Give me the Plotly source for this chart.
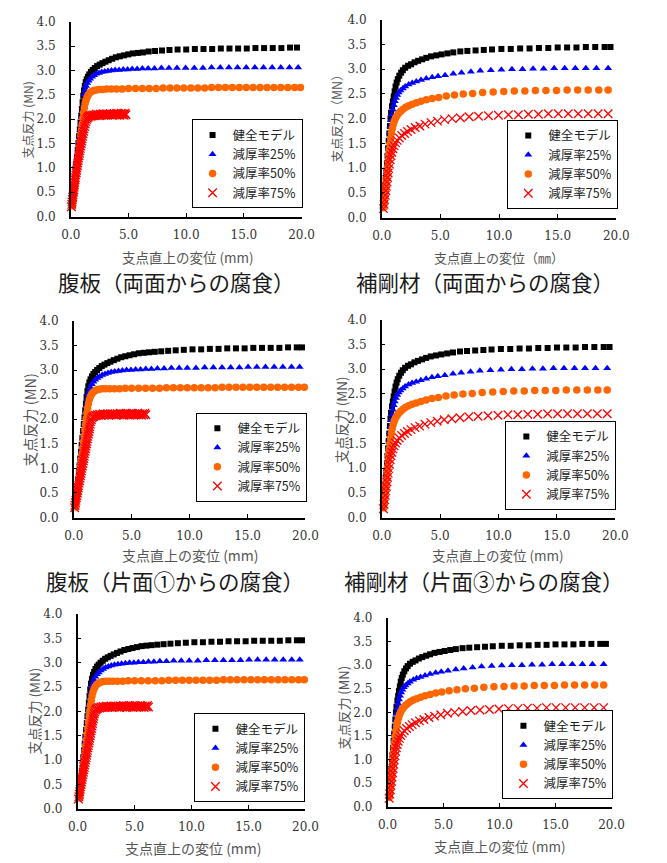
import plotly.graph_objects as go

W, H = 667, 863

series_names = ["健全モデル", "減厚率25%", "減厚率50%", "減厚率75%"]

# ---------------- data: 腹板（両面からの腐食） ----------------
web_both_healthy = [(0.12,0.25),(0.18,0.39),(0.24,0.53),(0.30,0.67),(0.36,0.81),(0.42,0.95),(0.48,1.09),(0.54,1.23),(0.60,1.37),(0.66,1.51),(0.72,1.65),(0.78,1.79),(0.84,1.93),(0.90,2.07),(0.96,2.21),(1.02,2.35),(1.08,2.48),(1.14,2.59),(1.21,2.68),(1.29,2.76),(1.38,2.82),(1.48,2.87),(1.60,2.92),(1.74,2.97),(1.90,3.01),(2.08,3.05),(2.28,3.09),(2.50,3.12),(2.74,3.15),(3.00,3.18),(3.28,3.21),(3.58,3.24),(3.90,3.27),(4.24,3.29),(4.60,3.31),(4.98,3.33),(5.38,3.35),(5.80,3.36),(6.25,3.37),(6.75,3.39),(7.30,3.40),(7.90,3.41),(8.55,3.42),(9.25,3.43),(10.00,3.43),(10.75,3.44),(11.50,3.44),(12.25,3.44),(13.00,3.45),(13.75,3.45),(14.50,3.45),(15.25,3.45),(16.00,3.46),(16.75,3.46),(17.50,3.46),(18.25,3.46),(19.00,3.47),(19.60,3.47)]
web_both_25 = [(0.12,0.22),(0.18,0.35),(0.24,0.48),(0.30,0.61),(0.36,0.74),(0.42,0.87),(0.48,1.00),(0.54,1.13),(0.60,1.26),(0.66,1.39),(0.72,1.52),(0.78,1.65),(0.84,1.78),(0.90,1.91),(0.96,2.04),(1.02,2.17),(1.08,2.30),(1.15,2.50),(1.23,2.60),(1.32,2.68),(1.42,2.74),(1.54,2.79),(1.68,2.83),(1.84,2.87),(2.02,2.90),(2.22,2.93),(2.44,2.95),(2.68,2.97),(2.94,2.98),(3.22,2.99),(3.52,3.00),(3.84,3.01),(4.18,3.01),(4.54,3.02),(4.92,3.02),(5.32,3.03),(5.75,3.03),(6.20,3.04),(6.70,3.04),(7.25,3.04),(7.85,3.05),(8.50,3.05),(9.20,3.05),(9.95,3.05),(10.70,3.05),(11.45,3.05),(12.20,3.06),(12.95,3.06),(13.70,3.06),(14.45,3.06),(15.20,3.06),(15.95,3.06),(16.70,3.06),(17.45,3.06),(18.20,3.06),(18.95,3.06),(19.70,3.06)]
web_both_50 = [(0.15,0.22),(0.21,0.34),(0.27,0.46),(0.33,0.58),(0.39,0.70),(0.45,0.82),(0.51,0.94),(0.57,1.06),(0.63,1.18),(0.69,1.30),(0.75,1.42),(0.81,1.54),(0.87,1.66),(0.93,1.78),(0.99,1.90),(1.05,2.02),(1.11,2.13),(1.17,2.23),(1.24,2.32),(1.32,2.39),(1.41,2.45),(1.52,2.50),(1.65,2.54),(1.80,2.57),(1.98,2.59),(2.20,2.60),(2.45,2.61),(2.75,2.61),(3.10,2.62),(3.50,2.62),(3.95,2.62),(4.45,2.62),(5.00,2.63),(5.60,2.63),(6.20,2.63),(6.80,2.63),(7.40,2.63),(8.00,2.64),(8.60,2.64),(9.20,2.64),(9.80,2.64),(10.40,2.64),(11.00,2.64),(11.60,2.64),(12.20,2.65),(12.80,2.65),(13.40,2.65),(14.00,2.65),(14.60,2.65),(15.20,2.65),(15.80,2.65),(16.40,2.65),(17.00,2.65),(17.60,2.65),(18.20,2.65),(18.80,2.65),(19.40,2.65),(19.90,2.65)]
web_both_75 = [(0.05,0.20),(0.08,0.25),(0.10,0.30),(0.13,0.35),(0.16,0.40),(0.19,0.45),(0.22,0.50),(0.25,0.55),(0.28,0.60),(0.31,0.65),(0.34,0.70),(0.37,0.75),(0.40,0.80),(0.43,0.85),(0.47,0.90),(0.50,0.95),(0.53,1.00),(0.57,1.05),(0.60,1.10),(0.64,1.15),(0.67,1.20),(0.71,1.25),(0.75,1.30),(0.78,1.35),(0.82,1.40),(0.86,1.45),(0.90,1.50),(0.94,1.55),(0.98,1.60),(1.02,1.65),(1.06,1.70),(1.11,1.75),(1.15,1.80),(1.20,1.85),(1.25,1.90),(1.30,1.95),(1.36,1.99),(1.42,2.02),(1.50,2.04),(1.58,2.06),(1.66,2.07),(1.74,2.06),(1.82,2.08),(1.90,2.07),(1.98,2.09),(2.06,2.07),(2.14,2.08),(2.22,2.10),(2.30,2.08),(2.38,2.09),(2.46,2.07),(2.54,2.10),(2.62,2.08),(2.70,2.09),(2.78,2.11),(2.86,2.08),(2.94,2.10),(3.02,2.09),(3.10,2.11),(3.18,2.08),(3.26,2.10),(3.34,2.09),(3.42,2.11),(3.50,2.09),(3.58,2.10),(3.66,2.08),(3.74,2.11),(3.82,2.09),(3.90,2.10),(3.98,2.12),(4.06,2.09),(4.14,2.11),(4.22,2.08),(4.30,2.10),(4.38,2.12),(4.46,2.09),(4.54,2.11),(4.62,2.08),(4.70,2.12),(4.78,2.09)]

# ---------------- data: 補剛材（両面からの腐食） ----------------
stiff_both_healthy = [(0.15,0.22),(0.20,0.35),(0.25,0.50),(0.30,0.65),(0.35,0.80),(0.40,0.95),(0.45,1.10),(0.50,1.25),(0.55,1.40),(0.60,1.55),(0.65,1.70),(0.70,1.85),(0.75,2.00),(0.80,2.12),(0.88,2.25),(0.95,2.35),(1.02,2.45),(1.10,2.55),(1.18,2.65),(1.27,2.73),(1.37,2.80),(1.50,2.87),(1.65,2.93),(1.80,2.98),(2.00,3.03),(2.25,3.07),(2.50,3.10),(2.80,3.14),(3.10,3.17),(3.45,3.20),(3.80,3.23),(4.20,3.26),(4.65,3.28),(5.10,3.30),(5.60,3.32),(6.10,3.34),(6.70,3.36),(7.30,3.37),(8.00,3.38),(8.70,3.39),(9.40,3.40),(10.20,3.41),(11.00,3.41),(11.80,3.42),(12.60,3.42),(13.40,3.43),(14.20,3.43),(15.00,3.44),(15.80,3.44),(16.60,3.44),(17.40,3.45),(18.20,3.45),(19.00,3.45),(19.50,3.45)]
stiff_both_25 = [(0.15,0.20),(0.20,0.33),(0.25,0.46),(0.30,0.60),(0.35,0.74),(0.40,0.88),(0.45,1.02),(0.50,1.16),(0.55,1.30),(0.60,1.44),(0.65,1.58),(0.70,1.72),(0.75,1.85),(0.80,1.97),(0.87,2.08),(0.95,2.18),(1.03,2.27),(1.12,2.35),(1.22,2.42),(1.33,2.48),(1.45,2.53),(1.60,2.57),(1.80,2.61),(2.00,2.65),(2.30,2.69),(2.60,2.72),(2.95,2.75),(3.35,2.78),(3.80,2.81),(4.30,2.84),(4.80,2.86),(5.40,2.88),(6.10,2.91),(6.80,2.93),(7.60,2.95),(8.40,2.97),(9.30,2.98),(10.20,2.99),(11.10,3.00),(12.00,3.00),(12.90,3.01),(13.80,3.01),(14.70,3.02),(15.60,3.02),(16.50,3.02),(17.40,3.02),(18.30,3.02),(19.30,3.02)]
stiff_both_50 = [(0.15,0.20),(0.20,0.30),(0.25,0.42),(0.30,0.54),(0.35,0.66),(0.40,0.78),(0.45,0.90),(0.50,1.02),(0.55,1.14),(0.60,1.26),(0.65,1.38),(0.70,1.50),(0.76,1.61),(0.83,1.71),(0.90,1.80),(0.98,1.88),(1.07,1.95),(1.17,2.01),(1.30,2.06),(1.45,2.11),(1.62,2.15),(1.82,2.19),(2.05,2.23),(2.30,2.26),(2.60,2.29),(2.95,2.32),(3.35,2.35),(3.80,2.38),(4.30,2.41),(4.85,2.43),(5.50,2.46),(6.20,2.48),(6.95,2.50),(7.75,2.51),(8.60,2.53),(9.50,2.54),(10.40,2.55),(11.30,2.56),(12.20,2.56),(13.10,2.57),(14.00,2.57),(14.90,2.57),(15.80,2.58),(16.70,2.58),(17.60,2.58),(18.50,2.58),(19.30,2.58)]
stiff_both_75 = [(0.15,0.18),(0.20,0.27),(0.25,0.36),(0.30,0.45),(0.35,0.54),(0.40,0.63),(0.45,0.72),(0.50,0.81),(0.55,0.90),(0.60,0.99),(0.66,1.08),(0.72,1.17),(0.79,1.25),(0.87,1.32),(0.96,1.39),(1.06,1.45),(1.18,1.51),(1.32,1.56),(1.50,1.61),(1.70,1.66),(1.95,1.70),(2.20,1.74),(2.50,1.78),(2.85,1.82),(3.25,1.85),(3.70,1.89),(4.20,1.92),(4.75,1.95),(5.35,1.98),(6.00,2.00),(6.70,2.02),(7.45,2.04),(8.25,2.05),(9.10,2.06),(9.95,2.07),(10.80,2.08),(11.65,2.08),(12.50,2.09),(13.35,2.09),(14.20,2.10),(15.05,2.10),(15.90,2.10),(16.75,2.10),(17.60,2.10),(18.45,2.10),(19.30,2.10)]

# ---------------- data: 腹板（片面からの腐食） ----------------
web_one_healthy = [(0.15,0.22),(0.21,0.36),(0.27,0.50),(0.33,0.64),(0.39,0.78),(0.45,0.92),(0.51,1.06),(0.57,1.20),(0.63,1.34),(0.69,1.48),(0.75,1.62),(0.81,1.76),(0.87,1.90),(0.93,2.04),(0.99,2.18),(1.05,2.32),(1.11,2.45),(1.18,2.57),(1.26,2.67),(1.35,2.75),(1.45,2.81),(1.57,2.87),(1.70,2.92),(1.85,2.96),(2.02,3.00),(2.21,3.04),(2.42,3.08),(2.65,3.11),(2.90,3.14),(3.17,3.17),(3.46,3.20),(3.77,3.23),(4.10,3.26),(4.45,3.28),(4.82,3.30),(5.21,3.32),(5.62,3.34),(6.05,3.35),(6.50,3.36),(7.00,3.37),(7.55,3.38),(8.15,3.39),(8.80,3.40),(9.50,3.41),(10.25,3.42),(11.00,3.42),(11.75,3.43),(12.50,3.43),(13.25,3.44),(14.00,3.44),(14.75,3.44),(15.50,3.45),(16.25,3.45),(17.00,3.45),(17.75,3.45),(18.50,3.46),(19.25,3.46),(19.70,3.46)]
web_one_25 = [(0.14,0.20),(0.20,0.33),(0.26,0.46),(0.32,0.59),(0.38,0.72),(0.44,0.85),(0.50,0.98),(0.56,1.11),(0.62,1.24),(0.68,1.37),(0.74,1.50),(0.80,1.63),(0.86,1.76),(0.92,1.89),(0.98,2.02),(1.04,2.15),(1.10,2.28),(1.17,2.40),(1.25,2.50),(1.34,2.58),(1.44,2.65),(1.56,2.71),(1.70,2.76),(1.86,2.80),(2.04,2.84),(2.24,2.87),(2.46,2.90),(2.70,2.92),(2.96,2.94),(3.24,2.96),(3.54,2.97),(3.86,2.98),(4.20,2.99),(4.56,3.00),(4.94,3.00),(5.34,3.01),(5.77,3.01),(6.22,3.02),(6.70,3.02),(7.22,3.03),(7.80,3.03),(8.43,3.04),(9.10,3.04),(9.80,3.04),(10.55,3.04),(11.30,3.05),(12.05,3.05),(12.80,3.05),(13.55,3.05),(14.30,3.05),(15.05,3.06),(15.80,3.06),(16.55,3.06),(17.30,3.06),(18.05,3.06),(18.80,3.06),(19.50,3.06)]
web_one_50 = [(0.18,0.22),(0.24,0.34),(0.30,0.46),(0.36,0.58),(0.42,0.70),(0.48,0.82),(0.54,0.94),(0.60,1.06),(0.66,1.18),(0.72,1.30),(0.78,1.42),(0.84,1.54),(0.90,1.66),(0.96,1.78),(1.02,1.90),(1.08,2.02),(1.14,2.13),(1.20,2.23),(1.27,2.32),(1.35,2.40),(1.44,2.46),(1.55,2.51),(1.68,2.55),(1.83,2.58),(2.00,2.60),(2.20,2.61),(2.45,2.62),(2.75,2.62),(3.10,2.62),(3.50,2.62),(3.95,2.62),(4.45,2.63),(5.00,2.63),(5.60,2.63),(6.20,2.63),(6.80,2.63),(7.40,2.63),(8.00,2.64),(8.60,2.64),(9.20,2.64),(9.80,2.64),(10.40,2.64),(11.00,2.64),(11.60,2.64),(12.20,2.64),(12.80,2.65),(13.40,2.65),(14.00,2.65),(14.60,2.65),(15.20,2.65),(15.80,2.65),(16.40,2.65),(17.00,2.65),(17.60,2.65),(18.20,2.65),(18.80,2.65),(19.40,2.65),(19.90,2.65)]
web_one_75 = [(0.08,0.20),(0.11,0.25),(0.15,0.30),(0.19,0.35),(0.23,0.40),(0.27,0.45),(0.31,0.50),(0.35,0.55),(0.39,0.60),(0.43,0.65),(0.47,0.70),(0.51,0.75),(0.55,0.80),(0.59,0.85),(0.63,0.90),(0.67,0.95),(0.71,1.00),(0.75,1.05),(0.79,1.10),(0.83,1.15),(0.87,1.20),(0.91,1.25),(0.95,1.30),(0.99,1.35),(1.03,1.40),(1.07,1.45),(1.11,1.50),(1.15,1.55),(1.19,1.60),(1.23,1.65),(1.27,1.70),(1.31,1.75),(1.35,1.80),(1.39,1.85),(1.43,1.90),(1.47,1.95),(1.52,1.99),(1.58,2.03),(1.66,2.05),(1.74,2.06),(1.84,2.08),(1.94,2.07),(2.04,2.09),(2.14,2.08),(2.24,2.10),(2.34,2.08),(2.44,2.09),(2.54,2.11),(2.64,2.08),(2.74,2.10),(2.84,2.09),(2.94,2.11),(3.04,2.08),(3.14,2.10),(3.24,2.09),(3.34,2.11),(3.44,2.09),(3.54,2.10),(3.64,2.08),(3.74,2.11),(3.84,2.09),(3.94,2.10),(4.04,2.12),(4.14,2.09),(4.24,2.11),(4.34,2.08),(4.44,2.10),(4.54,2.12),(4.64,2.09),(4.74,2.11),(4.84,2.08),(4.94,2.10),(5.04,2.12),(5.14,2.09),(5.24,2.11),(5.34,2.09),(5.44,2.10),(5.54,2.12),(5.64,2.09),(5.74,2.11),(5.84,2.08),(5.94,2.11),(6.04,2.09),(6.14,2.12),(6.22,2.09)]

web_both = [web_both_healthy, web_both_25, web_both_50, web_both_75]
stiff_both = [stiff_both_healthy, stiff_both_25, stiff_both_50, stiff_both_75]
web_one = [web_one_healthy, web_one_25, web_one_50, web_one_75]

x_tick_vals = [0, 5, 10, 15, 20]
y_tick_vals = [0, 0.5, 1.0, 1.5, 2.0, 2.5, 3.0, 3.5, 4.0]

# ---------------- styles ----------------
styles = [
    dict(symbol="square", size=6, color="#000000"),
    dict(symbol="triangle-up", size=7, color="#0000FF"),
    dict(symbol="circle", size=7.5, color="#FF6600"),
    dict(symbol="x-thin", size=8.5, color="#FF0000", line=dict(color="#FF0000", width=1.3)),
]

CJK = "Noto Sans CJK JP"

panels = [
    dict(data=web_both, box=(63, 302, 15, 213), leg=(303, 159.5),
         xt="支点直上の変位 (mm)", xtp=(184, 254), xts=13.5,
         yt="支点反力 (MN)", ytp=(18, 115), yts=12,
         title="腹板（両面からの腐食）", tp=(172, 279)),
    dict(data=stiff_both, box=(385, 628, 13, 214), leg=(630, 160),
         xt="支点直上の変位（㎜）", xtp=(506, 255), xts=13,
         yt="支点反力（MN）", ytp=(338, 110), yts=12.5,
         title="補剛材（両面からの腐食）", tp=(492, 279)),
    dict(data=web_one, box=(66, 306, 319, 519), leg=(308, 457.5),
         xt="支点直上の変位 (mm)", xtp=(187, 557), xts=14,
         yt="支点反力 (MN)", ytp=(20, 420), yts=14.5,
         title="腹板（片面①からの腐食）", tp=(171, 583)),
    dict(data=stiff_both, box=(385, 627, 318, 519), leg=(628, 466),
         xt="支点直上の変位 (mm)", xtp=(505, 557), xts=13.5,
         yt="支点反力 (MN)", ytp=(343, 420), yts=13.5,
         title="補剛材（片面③からの腐食）", tp=(491, 583)),
    dict(data=web_one, box=(70, 306, 617, 815), leg=(306, 763),
         xt="支点直上の変位 (mm)", xtp=(190, 855), xts=14,
         yt="支点反力 (MN)", ytp=(25, 716), yts=13.5,
         title=None, tp=None),
    dict(data=stiff_both, box=(391, 623, 621, 813), leg=(625, 760),
         xt="支点直上の変位 (mm)", xtp=(507, 853), xts=13.5,
         yt="支点反力 (MN)", ytp=(345, 712), yts=13,
         title=None, tp=None),
]


def px(x):
    return x / W


def py(y):
    return 1 - y / H


fig = go.Figure()
annotations = []
layout = dict(width=W, height=H, margin=dict(l=0, r=0, t=0, b=0),
              paper_bgcolor="white", plot_bgcolor="white", showlegend=True)

for i, p in enumerate(panels):
    n = i + 1
    sfx = "" if n == 1 else str(n)
    xa, ya = "x" + sfx, "y" + sfx
    leg = "legend" + sfx
    x0, x1, yt_, yb = p["box"]
    for k, series in enumerate(p["data"]):
        fig.add_trace(go.Scatter(
            x=[pt[0] for pt in series], y=[pt[1] for pt in series],
            mode="markers", name=series_names[k], marker=styles[k],
            xaxis=xa, yaxis=ya, legend=leg, cliponaxis=False,
            showlegend=True))
    common = dict(showline=True, linecolor="black", linewidth=1.5,
                  ticks="inside", ticklen=4, tickwidth=1, tickcolor="black",
                  showgrid=False, zeroline=False, fixedrange=True,
                  tickfont=dict(family="DejaVu Serif", size=12, color="#333333"),
                  tickformat=".1f")
    layout["xaxis" + sfx] = dict(common, domain=[px(x0), px(x1)], anchor=ya,
                                 range=[0, 20], tickvals=x_tick_vals,
                                 ticklabelstandoff=6)
    layout["yaxis" + sfx] = dict(common, domain=[py(yb), py(yt_)], anchor=xa,
                                 range=[0, 4], tickvals=y_tick_vals,
                                 ticklabelstandoff=11)
    lx, ly = p["leg"]
    layout[leg] = dict(x=px(lx), y=py(ly), xanchor="right", yanchor="middle",
                       xref="paper", yref="paper",
                       bgcolor="white", bordercolor="black", borderwidth=1,
                       font=dict(family=CJK, size=12.5, color="#222222"),
                       itemwidth=30, tracegroupgap=0, traceorder="normal")
    annotations.append(dict(text=p["xt"], x=px(p["xtp"][0]), y=py(p["xtp"][1]),
                            xref="paper", yref="paper", showarrow=False,
                            xanchor="center", yanchor="middle",
                            font=dict(family=CJK, size=p["xts"], color="#555555")))
    annotations.append(dict(text=p["yt"], x=px(p["ytp"][0]), y=py(p["ytp"][1]),
                            xref="paper", yref="paper", showarrow=False, textangle=-90,
                            xanchor="center", yanchor="middle",
                            font=dict(family=CJK, size=p["yts"], color="#555555")))
    if p["title"]:
        annotations.append(dict(text=p["title"], x=px(p["tp"][0]), y=py(p["tp"][1]),
                                xref="paper", yref="paper", showarrow=False,
                                xanchor="center", yanchor="middle",
                                font=dict(family=CJK, size=21.5, color="#1a1a1a")))

layout["annotations"] = annotations
fig.update_layout(**layout)
# remove the browser's default 8px page margin so the figure fills the window exactly
fig.write_html("out.html", config={"displayModeBar": False},
               post_script="document.body.style.margin='0';document.body.style.overflow='hidden';")
